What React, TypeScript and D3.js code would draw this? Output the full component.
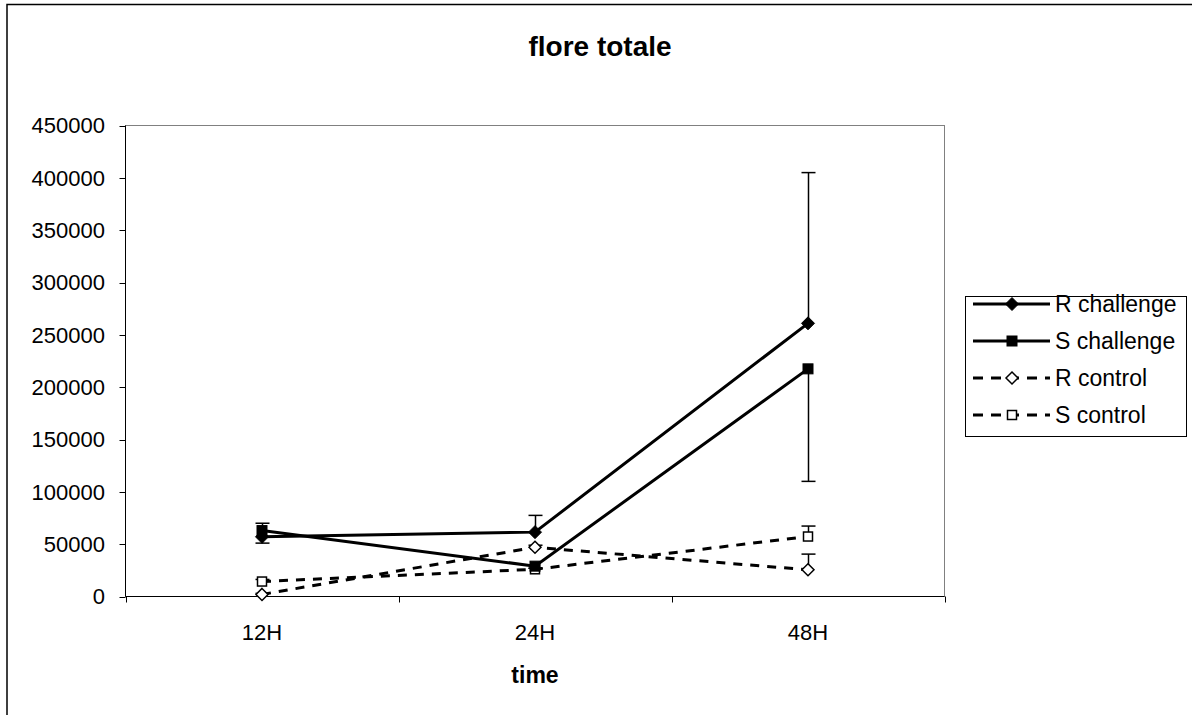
import React from "react";
import * as d3 from "d3";

const categories = ["12H", "24H", "48H"];
const yTicks = [0, 50000, 100000, 150000, 200000, 250000, 300000, 350000, 400000, 450000];

const rChallenge = [57000, 61500, 261000];
const rChallengeErr = [13000, 16000, 144000];
const sChallenge = [63000, 29000, 217500];
const sChallengeErr = [12000, 2000, 107500];
const rControl = [2000, 47000, 25500];
const rControlErr = [1000, 2000, 15000];
const sControl = [14300, 26000, 57300];
const sControlErr = [2000, 1000, 10000];

type Series = {
  name: string;
  values: number[];
  err: number[];
  dir: "plus" | "minus";
  dashed: boolean;
  marker: "diamond" | "square";
  filled: boolean;
};

const series: Series[] = [
  { name: "R challenge", values: rChallenge, err: rChallengeErr, dir: "plus", dashed: false, marker: "diamond", filled: true },
  { name: "S challenge", values: sChallenge, err: sChallengeErr, dir: "minus", dashed: false, marker: "square", filled: true },
  { name: "R control", values: rControl, err: rControlErr, dir: "plus", dashed: true, marker: "diamond", filled: false },
  { name: "S control", values: sControl, err: sControlErr, dir: "plus", dashed: true, marker: "square", filled: false },
];

const FONT = "Liberation Sans, Arial, sans-serif";

function Marker({ x, y, s }: { x: number; y: number; s: Series }) {
  if (s.marker === "diamond") {
    const r = s.filled ? 6.5 : 6;
    return (
      <path
        d={`M${x},${y - r}L${x + r},${y}L${x},${y + r}L${x - r},${y}Z`}
        fill={s.filled ? "#000" : "#fff"}
        stroke="#000"
        strokeWidth={s.filled ? 1 : 1.5}
      />
    );
  }
  const h = s.filled ? 5 : 4.5;
  return (
    <rect
      x={x - h}
      y={y - h}
      width={2 * h}
      height={2 * h}
      fill={s.filled ? "#000" : "#fff"}
      stroke="#000"
      strokeWidth={s.filled ? 1 : 1.5}
    />
  );
}

export default function App() {
  const W = 1192, H = 715;
  const left = 125.5, right = 944.5, top = 125.5, bottom = 596.5;
  const x = d3.scaleBand<string>().domain(categories).range([left, right]).paddingInner(0).paddingOuter(0);
  const cx = (c: string) => (x(c) as number) + x.bandwidth() / 2;
  const y = d3.scaleLinear().domain([0, 450000]).range([bottom, top]);
  const line = d3
    .line<number>()
    .x((_, i) => cx(categories[i]))
    .y((v) => y(v));

  const drawOrder = [series[2], series[3], series[0], series[1]];
  const boundaries = [...categories.map((c) => x(c) as number), right];

  return (
    <svg width={W} height={H} style={{ position: "absolute", left: 0, top: 0, background: "#fff" }}>
      <rect x={0} y={0} width={W} height={H} fill="#fff" />
      <rect x={7} y={4.5} width={W + 20} height={H + 20} fill="none" stroke="#000" strokeWidth={1.5} />
      <text x={600} y={56} textAnchor="middle" fontFamily={FONT} fontWeight="bold" fontSize={28}>
        flore totale
      </text>
      {/* plot area border */}
      <rect x={left} y={top} width={right - left} height={bottom - top} fill="none" stroke="#808080" strokeWidth={1} />
      {/* y axis */}
      <line x1={left} x2={left} y1={top} y2={bottom} stroke="#000" strokeWidth={1} />
      {yTicks.map((t) => (
        <g key={t}>
          <line x1={left - 6} x2={left} y1={Math.round(y(t)) + 0.5} y2={Math.round(y(t)) + 0.5} stroke="#000" />
          <text x={105} y={y(t)} dy="0.36em" textAnchor="end" fontFamily={FONT} fontSize={22}>
            {t}
          </text>
        </g>
      ))}
      {/* x axis */}
      <line x1={left} x2={right} y1={bottom} y2={bottom} stroke="#000" strokeWidth={1} />
      {boundaries.map((b, i) => (
        <line key={i} x1={Math.round(b) + 0.5} x2={Math.round(b) + 0.5} y1={bottom} y2={bottom + 6} stroke="#000" />
      ))}
      {categories.map((c) => (
        <text key={c} x={cx(c)} y={640} textAnchor="middle" fontFamily={FONT} fontSize={22}>
          {c}
        </text>
      ))}
      <text x={535} y={683} textAnchor="middle" fontFamily={FONT} fontWeight="bold" fontSize={23}>
        time
      </text>
      {/* error bars */}
      {drawOrder.map((s) =>
        s.values.map((v, i) => {
          const end = s.dir === "plus" ? v + s.err[i] : v - s.err[i];
          const px = Math.round(cx(categories[i])) + 0.5;
          return (
            <g key={s.name + i}>
              <line x1={px} x2={px} y1={y(v)} y2={y(end)} stroke="#000" strokeWidth={1.5} />
              <line x1={px - 7} x2={px + 7} y1={y(end)} y2={y(end)} stroke="#000" strokeWidth={1.5} />
            </g>
          );
        })
      )}
      {/* lines */}
      {drawOrder.map((s) => (
        <path
          key={s.name}
          d={line(s.values) as string}
          fill="none"
          stroke="#000"
          strokeWidth={3}
          strokeDasharray={s.dashed ? "9,8" : undefined}
        />
      ))}
      {drawOrder.map((s) =>
        s.values.map((v, i) => <Marker key={s.name + "m" + i} x={cx(categories[i])} y={y(v)} s={s} />)
      )}
      {/* legend */}
      <rect x={965.5} y={296.5} width={221} height={140} fill="#fff" stroke="#000" strokeWidth={1} />
      {series.map((s, i) => {
        const ly = 304 + i * 37;
        return (
          <g key={s.name}>
            <line
              x1={973}
              x2={1050}
              y1={ly}
              y2={ly}
              stroke="#000"
              strokeWidth={3}
              strokeDasharray={s.dashed ? "10,8" : undefined}
            />
            <Marker x={1012} y={ly} s={s} />
            <text x={1055} y={ly} dy="0.36em" fontFamily={FONT} fontSize={23}>
              {s.name}
            </text>
          </g>
        );
      })}
    </svg>
  );
}
